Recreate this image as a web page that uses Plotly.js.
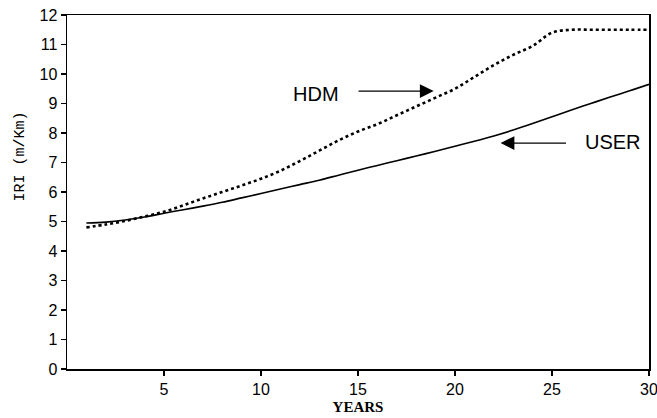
<!DOCTYPE html>
<html>
<head>
<meta charset="utf-8">
<script src="https://cdn.plot.ly/plotly-3.0.1.min.js"></script>
<style>html,body{margin:0;padding:0;background:#fff;}#chart{width:657px;height:418px;}</style>
</head>
<body>
<div id="chart"></div>
<script>
const years = [1,2,3,4,5,6,7,8,9,10,11,12,13,14,15,16,17,18,19,20,21,22,23,24,25,26,27,28,29,30];
const userIRI = [4.95,4.98,5.05,5.15,5.28,5.4,5.52,5.65,5.8,5.95,6.1,6.25,6.4,6.57,6.74,6.9,7.06,7.22,7.38,7.55,7.72,7.9,8.1,8.32,8.55,8.78,9.0,9.22,9.43,9.65];
const hdmIRI = [4.8,4.9,5.02,5.17,5.33,5.55,5.78,6.0,6.22,6.45,6.72,7.05,7.4,7.75,8.05,8.3,8.6,8.9,9.2,9.5,9.9,10.3,10.65,10.95,11.4,11.5,11.5,11.5,11.5,11.5];
const xTicks = [5,10,15,20,25,30];
const yTicks = [0,1,2,3,4,5,6,7,8,9,10,11,12];
const yTitle = 'IRI (m/Km)';

const traces = [
  {x: years, y: userIRI, mode: 'lines', name: 'USER', line: {color: '#000', width: 1.6, shape: 'spline'}},
  {x: years, y: hdmIRI, mode: 'lines', name: 'HDM', line: {color: '#000', width: 2.6, dash: 'dot', shape: 'spline'}}
];

const layout = {
  width: 657, height: 418,
  margin: {l: 67, r: 8, t: 15, b: 49},
  paper_bgcolor: '#fff', plot_bgcolor: '#fff',
  showlegend: false,
  font: {family: 'Liberation Sans, Arial, sans-serif', color: '#000', size: 14},
  xaxis: {
    range: [0, 30], tickvals: xTicks, ticktext: xTicks.map(String),
    showgrid: false, zeroline: false, showline: true, mirror: true,
    linecolor: '#000', linewidth: 1.5,
    ticks: 'outside', ticklen: 5, tickwidth: 1.2, tickcolor: '#000',
    ticklabeloverflow: 'allow',
    tickfont: {size: 16, family: 'Liberation Sans, Arial, sans-serif'},
    title: {text: 'YEARS', font: {family: 'Liberation Serif, DejaVu Serif, serif', size: 15, weight: 'bold'}, standoff: 5}
  },
  yaxis: {
    range: [0, 12], tickvals: yTicks, ticktext: yTicks.map(String),
    showgrid: false, zeroline: false, showline: true, mirror: true,
    linecolor: '#000', linewidth: 1.5,
    ticks: 'outside', ticklen: 5, tickwidth: 1.2, tickcolor: '#000',
    tickfont: {size: 16, family: 'Liberation Sans, Arial, sans-serif'}
  },
  annotations: [
    {x: 0, xref: 'paper', xanchor: 'center', xshift: -46, y: 7.2, yref: 'y', yanchor: 'middle',
     text: yTitle, textangle: -90, showarrow: false,
     font: {family: 'Liberation Mono, DejaVu Sans Mono, monospace', size: 15, color: '#000'}},
    {x: 18.9, y: 9.42, ax: 14.95, ay: 9.42, xref: 'x', yref: 'y', axref: 'x', ayref: 'y',
     text: '', showarrow: true, arrowhead: 2, arrowsize: 2.3, arrowwidth: 1.2, arrowcolor: '#000'},
    {x: 12.85, y: 9.32, xref: 'x', yref: 'y', text: 'HDM', showarrow: false,
     font: {size: 20, family: 'Liberation Sans, Arial, sans-serif', color: '#000'}},
    {x: 22.35, y: 7.66, ax: 25.8, ay: 7.66, xref: 'x', yref: 'y', axref: 'x', ayref: 'y',
     text: '', showarrow: true, arrowhead: 2, arrowsize: 2.3, arrowwidth: 1.2, arrowcolor: '#000'},
    {x: 28.15, y: 7.69, xref: 'x', yref: 'y', text: 'USER', showarrow: false,
     font: {size: 20, family: 'Liberation Sans, Arial, sans-serif', color: '#000'}}
  ]
};

Plotly.newPlot('chart', traces, layout, {displayModeBar: false, staticPlot: true});
</script>
</body>
</html>
